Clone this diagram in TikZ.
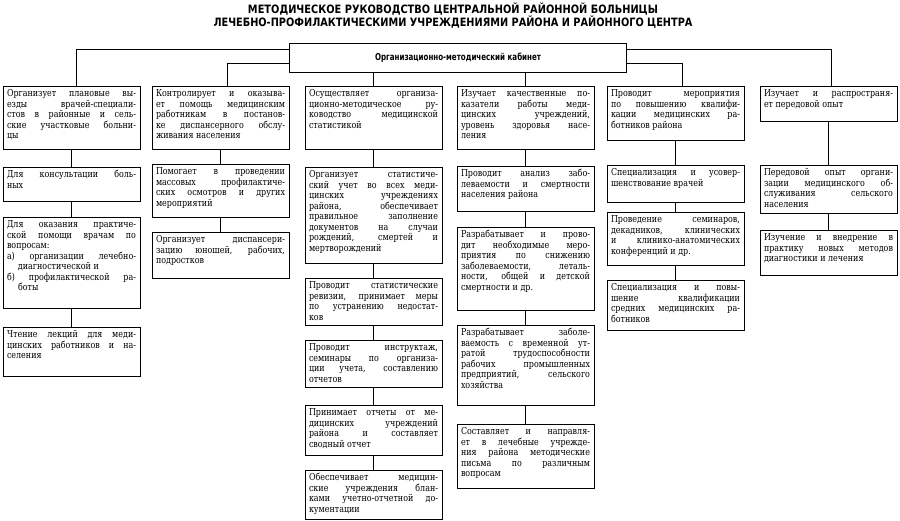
\documentclass[tikz,border=0pt]{standalone}
\usepackage{fontspec}
\usepackage{graphicx}
\setmainfont{DejaVu Serif}[FakeStretch=0.83]
\newfontfamily\tfont{DejaVu Sans}
\newcommand\cfont{\fontsize{9.6}{10.5}\selectfont}
\newcommand\J[1]{\hbox to\hsize{#1}}
\newcommand\E[1]{\hbox{#1}}
\hbadness=10000 \hfuzz=30pt
\tikzset{
  cbox/.style={draw, line width=0.8pt, anchor=north west, inner xsep=4pt, inner ysep=3.5pt, outer sep=0pt},
  conn/.style={line width=0.8pt},
  cabbox/.style={draw, line width=0.9pt, minimum width=337pt, minimum height=29pt, inner sep=0pt, outer sep=0pt},
  ttl/.style={anchor=base, inner sep=0pt}
}
\newcommand\bx[5]{\node[cbox] (#1) at (#2,#3) {\parbox[c][\dimexpr#4pt-7pt\relax][t]{129pt}{\cfont #5}};}
\begin{document}
\begin{tikzpicture}[x=1pt,y=-1pt]
\useasboundingbox[fill=white] (0,0) rectangle (900,520);
% title
\node[ttl] (t1) at (453,13.5) {\resizebox{410pt}{\height}{\tfont\bfseries\fontsize{11.5}{12}\selectfont МЕТОДИЧЕСКОЕ РУКОВОДСТВО ЦЕНТРАЛЬНОЙ РАЙОННОЙ БОЛЬНИЦЫ}};
\node[ttl] (t2) at (453,26) {\resizebox{479pt}{\height}{\tfont\bfseries\fontsize{11.5}{12}\selectfont ЛЕЧЕБНО-ПРОФИЛАКТИЧЕСКИМИ УЧРЕЖДЕНИЯМИ РАЙОНА И РАЙОННОГО ЦЕНТРА}};
% cabinet
\node[cabbox] (cab) at (458,57.5) {\resizebox{166pt}{\height}{\tfont\bfseries\fontsize{9.5}{10}\selectfont Организационно-методический кабинет}};

% column 1
\bx{c1a}{3}{86}{63}{\J{Организует плановые вы-}\J{езды врачей-специали-}\J{стов в районные и сель-}\J{ские участковые больни-}\E{цы}}
\bx{c1b}{3}{167}{34}{\J{Для консультации боль-}\E{ных}}
\bx{c1c}{3}{217}{91}{\J{Для оказания практиче-}\J{ской помощи врачам по}\E{вопросам:}\J{а) организации лечебно-}\E{\hspace{11pt}диагностической и}\J{б) профилактической ра-}\E{\hspace{11pt}боты}}
\bx{c1d}{3}{327}{49}{\J{Чтение лекций для меди-}\J{цинских работников и на-}\E{селения}}

% column 2
\bx{c2a}{152}{86}{63}{\J{Контролирует и оказыва-}\J{ет помощь медицинским}\J{работникам в постанов-}\J{ке диспансерного обслу-}\E{живания населения}}
\bx{c2b}{152}{164}{53}{\J{Помогает в проведении}\J{массовых профилактиче-}\J{ских осмотров и других}\E{мероприятий}}
\bx{c2c}{152}{232}{46}{\J{Организует диспансери-}\J{зацию юношей, рабочих,}\E{подростков}}

% column 3
\bx{c3a}{305}{86}{63}{\J{Осуществляет организа-}\J{ционно-методическое ру-}\J{ководство медицинской}\E{статистикой}}
\bx{c3b}{305}{167}{96}{\J{Организует статистиче-}\J{ский учет во всех меди-}\J{цинских учреждениях}\J{района, обеспечивает}\J{правильное заполнение}\J{документов на случаи}\J{рождений, смертей и}\E{мертворождений}}
\bx{c3c}{305}{278}{47}{\J{Проводит статистические}\J{ревизии, принимает меры}\J{по устранению недостат-}\E{ков}}
\bx{c3d}{305}{340}{47}{\J{Проводит инструктаж,}\J{семинары по организа-}\J{ции учета, составлению}\E{отчетов}}
\bx{c3e}{305}{405}{50}{\J{Принимает отчеты от ме-}\J{дицинских учреждений}\J{района и составляет}\E{сводный отчет}}
\bx{c3f}{305}{470}{49}{\J{Обеспечивает медицин-}\J{ские учреждения блан-}\J{ками учетно-отчетной до-}\E{кументации}}

% column 4
\bx{c4a}{457}{86}{63}{\J{Изучает качественные по-}\J{казатели работы меди-}\J{цинских учреждений,}\J{уровень здоровья насе-}\E{ления}}
\bx{c4b}{457}{166}{45}{\J{Проводит анализ забо-}\J{леваемости и смертности}\E{населения района}}
\bx{c4c}{457}{227}{83}{\J{Разрабатывает и прово-}\J{дит необходимые меро-}\J{приятия по снижению}\J{заболеваемости, леталь-}\J{ности, общей и детской}\E{смертности и др.}}
\bx{c4d}{457}{325}{80}{\J{Разрабатывает заболе-}\J{ваемость с временной ут-}\J{ратой трудоспособности}\J{рабочих промышленных}\J{предприятий, сельского}\E{хозяйства}}
\bx{c4e}{457}{424}{64}{\J{Составляет и направля-}\J{ет в лечебные учрежде-}\J{ния района методические}\J{письма по различным}\E{вопросам}}

% column 5
\bx{c5a}{607}{86}{54}{\J{Проводит мероприятия}\J{по повышению квалифи-}\J{кации медицинских ра-}\E{ботников района}}
\bx{c5b}{607}{165}{37}{\J{Специализация и усовер-}\E{шенствование врачей}}
\bx{c5c}{607}{212}{53}{\J{Проведение семинаров,}\J{декадников, клинических}\J{и клинико-анатомических}\E{конференций и др.}}
\bx{c5d}{607}{280}{50}{\J{Специализация и повы-}\J{шение квалификации}\J{средних медицинских ра-}\E{ботников}}

% column 6
\bx{c6a}{760}{86}{35}{\J{Изучает и распространя-}\E{ет передовой опыт}}
\bx{c6b}{760}{165}{48}{\J{Передовой опыт органи-}\J{зации медицинского об-}\J{служивания сельского}\E{населения}}
\bx{c6c}{760}{230}{45}{\J{Изучение и внедрение в}\J{практику новых методов}\E{диагностики и лечения}}

% connectors from cabinet
\draw[conn] ([yshift=8.5pt]cab.west) -| ([xshift=5pt]c1a.north);
\draw[conn] ([yshift=-5.5pt]cab.west) -| ([xshift=7pt]c2a.north);
\draw[conn] (cab.south -| c3a.north) -- (c3a.north);
\draw[conn] (cab.south -| c4a.north) -- (c4a.north);
\draw[conn] ([yshift=-5.5pt]cab.east) -| ([xshift=7pt]c5a.north);
\draw[conn] ([yshift=8.5pt]cab.east) -| ([xshift=3pt]c6a.north);

% connectors within columns
\draw[conn] (c1a.south) -- (c1b.north);
\draw[conn] (c1b.south) -- (c1c.north);
\draw[conn] (c1c.south) -- (c1d.north);
\draw[conn] (c2a.south) -- (c2b.north);
\draw[conn] (c2b.south) -- (c2c.north);
\draw[conn] (c3a.south) -- (c3b.north);
\draw[conn] (c3b.south) -- (c3c.north);
\draw[conn] (c3c.south) -- (c3d.north);
\draw[conn] (c3d.south) -- (c3e.north);
\draw[conn] (c3e.south) -- (c3f.north);
\draw[conn] (c4a.south) -- (c4b.north);
\draw[conn] (c4b.south) -- (c4c.north);
\draw[conn] (c4c.south) -- (c4d.north);
\draw[conn] (c4d.south) -- (c4e.north);
\draw[conn] (c5a.south) -- (c5b.north);
\draw[conn] (c5b.south) -- (c5c.north);
\draw[conn] (c5c.south) -- (c5d.north);
\draw[conn] (c6a.south) -- (c6b.north);
\draw[conn] (c6b.south) -- (c6c.north);
\end{tikzpicture}
\end{document}
